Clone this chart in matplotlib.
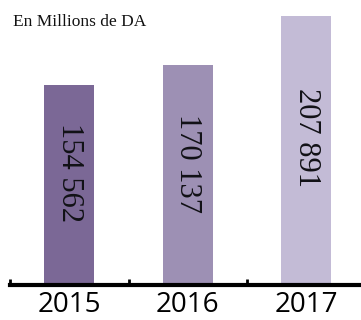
import matplotlib.pyplot as plt

# chiffre d'affaires par annee
years = ["2015", "2016", "2017"]
values = [154562, 170137, 207891]
labels = ["154 562", "170 137", "207 891"]
# position of the rotated value text, as a fraction of each bar height
label_pos = [0.56, 0.55, 0.55]

colors = ["#7b6896", "#9d90b4", "#c3bbd6"]

fig = plt.figure(figsize=(3.61, 3.20), dpi=100)
W, H = 361, 320
ax = fig.add_axes([10 / W, 35 / H, 351 / W, 285 / H])

x = range(len(years))
ax.bar(x, values, width=0.42, color=colors, zorder=1)

for xi, v, lab, f in zip(x, values, labels, label_pos):
    ax.text(xi, v * f, lab, rotation=-90, ha="center", va="center",
            fontsize=22, family="Liberation Serif", color="#111116")

ax.set_xlim(-0.5, 2.462)
ax.set_ylim(0, 220250)

for s in ["top", "right", "left"]:
    ax.spines[s].set_visible(False)
ax.spines["bottom"].set_linewidth(3)
ax.spines["bottom"].set_zorder(3)
ax.set_yticks([])

# separators between the years
ax.set_xticks([-0.5, 0.5, 1.5])
ax.set_xticklabels([])
ax.tick_params(axis="x", which="major", direction="in", length=4.5, width=2)
ax.set_xticks(list(x), minor=True)
ax.set_xticklabels(years, minor=True, fontsize=20, family="Open Sans")
ax.tick_params(axis="x", which="minor", length=0, pad=4)

fig.text(13 / W, 1 - 14 / H, "En Millions de DA", ha="left", va="top",
         fontsize=12.5, family="Liberation Serif", color="#111111")

fig.savefig("out.png", dpi=100)
